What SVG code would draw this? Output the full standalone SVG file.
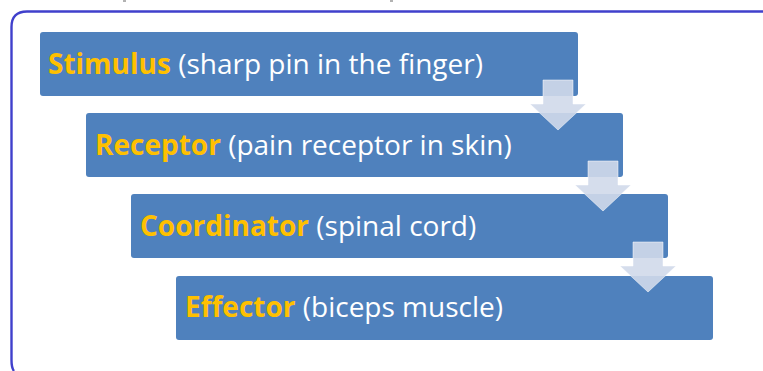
<svg xmlns="http://www.w3.org/2000/svg" width="763" height="371" viewBox="0 0 763 371">
<style>
.box{fill:#4f81bd;}
.t{font-family:"Open Sans","Noto Sans",sans-serif;font-size:28px;fill:#ffffff;}
.k{fill:#ffc000;font-weight:bold;}
.arr{fill:#d0d9ea;fill-opacity:0.9;stroke:#ffffff;stroke-opacity:0.5;stroke-width:1;}
</style>
<rect width="763" height="371" fill="#ffffff"/>
<path d="M763 11.5 H27 Q11.5 11.5 11.5 27 V360 Q11.5 368 14 371" fill="none" stroke="#4040cc" stroke-width="2.4"/>
<line x1="123" y1="1" x2="126" y2="1" stroke="#666" stroke-width="1"/>
<line x1="390" y1="1" x2="393" y2="1" stroke="#666" stroke-width="1"/>
<g id="stimulus"><rect class="box" x="40" y="32" width="538" height="64" rx="3"/><text class="t" x="48" y="74"><tspan class="k">Stimulus</tspan> (sharp pin in the finger)</text></g>
<g id="receptor"><rect class="box" x="86" y="113" width="537" height="64" rx="3"/><text class="t" x="95" y="155"><tspan class="k">Receptor</tspan> (pain receptor in skin)</text></g>
<g id="coordinator"><rect class="box" x="131" y="194" width="537" height="64" rx="3"/><text class="t" x="140" y="236"><tspan class="k">Coordinator</tspan> (spinal cord)</text></g>
<g id="effector"><rect class="box" x="176" y="276" width="537" height="64" rx="3"/><text class="t" x="185" y="317"><tspan class="k">Effector</tspan> (biceps muscle)</text></g>
<g id="connectors">
<path class="arr" d="M543 80 H573 V104 H586 L558 130 L530 104 H543 Z"/>
<path class="arr" d="M588 161 H618 V185 H631 L603 211 L575 185 H588 Z"/>
<path class="arr" d="M633 242 H663 V266 H676 L648 292 L620 266 H633 Z"/>
</g>
</svg>
